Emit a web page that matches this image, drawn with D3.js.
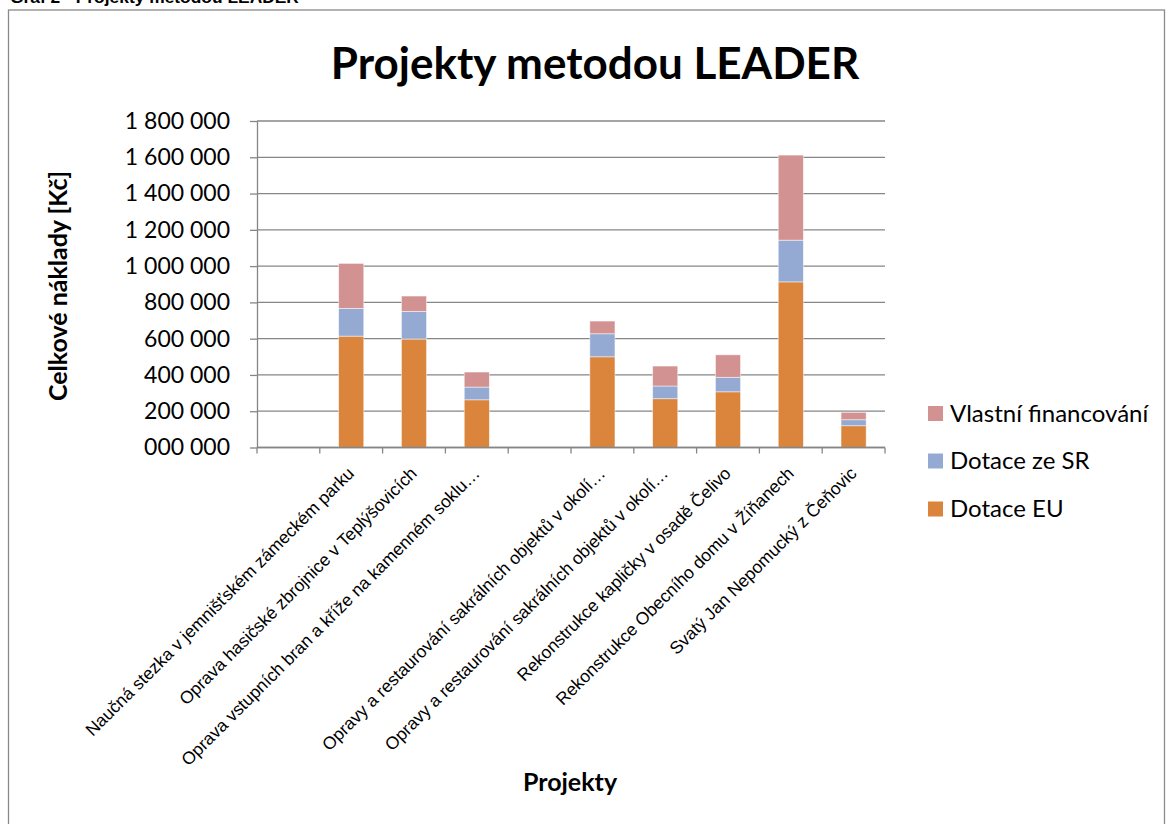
<!DOCTYPE html>
<html>
<head>
<meta charset="utf-8">
<script src="https://cdn.jsdelivr.net/npm/d3@7"></script>
<style>
  body { margin: 0; background: #fff; }
  svg { display: block; }
</style>
</head>
<body>
<svg id="chart"></svg>
<script>
// Projects (two slots are left empty in the original sheet)
const categories = [
  "",
  "Naučná stezka v jemnišťském zámeckém parku",
  "Oprava hasičské zbrojnice v Teplýšovicích",
  "Oprava vstupních bran a kříže na kamenném soklu…",
  "",
  "Opravy a restaurování sakrálních objektů v okolí…",
  "Opravy a restaurování sakrálních objektů v okolí…",
  "Rekonstrukce kapličky v osadě Čelivo",
  "Rekonstrukce Obecního domu v Žíňanech",
  "Svatý Jan Nepomucký z Čeňovic"
];

// Values in Kč
const dotaceEU = [0, 614000, 598000, 263000, 0, 500000, 269000, 307000, 913000, 120000];
const dotaceSR = [0, 153000, 152000, 70000, 0, 127000, 70000, 80000, 230000, 33000];
const vlastni  = [0, 248000, 85000, 83000, 0, 70000, 110000, 124000, 469000, 41000];

const seriesNames = ["Dotace EU", "Dotace ze SR", "Vlastní financování"];
const seriesColors = ["#da843c", "#95aad2", "#d39292"];

const yTicks = [0, 200000, 400000, 600000, 800000, 1000000, 1200000, 1400000, 1600000, 1800000];
const yTickLabels = ["000 000", "200 000", "400 000", "600 000", "800 000",
  "1 000 000", "1 200 000", "1 400 000", "1 600 000", "1 800 000"];

const width = 1168;
const height = 824;
const calibri = "Lato, Carlito, Calibri, sans-serif";
const arial = "'Liberation Sans', Arial, sans-serif";

const svg = d3.select("#chart")
  .attr("width", width)
  .attr("height", height);

// plot area
const plotLeft = 257, plotRight = 885, plotTop = 121, plotBottom = 447.5;

// caption above the chart frame (cut off at the top)
svg.append("text")
  .attr("x", 10)
  .attr("y", 3)
  .style("font-family", arial)
  .style("font-weight", "bold")
  .style("font-size", "17.4px")
  .text("Graf 2 - Projekty metodou LEADER");

// chart frame
svg.append("rect")
  .attr("x", 8.5)
  .attr("y", 10)
  .attr("width", 1156)
  .attr("height", 840)
  .attr("fill", "none")
  .attr("stroke", "#8a8a8a")
  .attr("stroke-width", 1.3);

const idx = categories.map((d, i) => i);

const x = d3.scaleBand()
  .domain(idx)
  .range([plotLeft, plotRight])
  .paddingInner(0.6)
  .paddingOuter(0.3);

const y = d3.scaleLinear()
  .domain([0, 1800000])
  .range([plotBottom, plotTop]);

// gridlines
svg.append("g")
  .selectAll("line")
  .data(yTicks)
  .join("line")
  .attr("x1", plotLeft)
  .attr("x2", plotRight)
  .attr("y1", d => y(d))
  .attr("y2", d => y(d))
  .attr("stroke", "#868686")
  .attr("stroke-width", 1.3);

// stacked bars
const table = idx.map(i => ({
  i: i,
  "Dotace EU": dotaceEU[i],
  "Dotace ze SR": dotaceSR[i],
  "Vlastní financování": vlastni[i]
}));
const stacked = d3.stack().keys(seriesNames)(table);

svg.append("g")
  .selectAll("g")
  .data(stacked)
  .join("g")
  .attr("fill", (d, k) => seriesColors[k])
  .selectAll("rect")
  .data(d => d.filter(p => p[1] > p[0]))
  .join("rect")
  .attr("x", d => x(d.data.i))
  .attr("width", x.bandwidth())
  .attr("y", d => y(d[1]))
  .attr("height", d => y(d[0]) - y(d[1]))
  .attr("stroke", "#ffffff")
  .attr("stroke-opacity", 0.6)
  .attr("stroke-width", 0.8);

// y axis
const yAxis = svg.append("g")
  .attr("transform", `translate(${plotLeft},0)`)
  .call(d3.axisLeft(y)
    .tickValues(yTicks)
    .tickFormat((d, i) => yTickLabels[i])
    .tickSize(7)
    .tickPadding(20)
    .tickSizeOuter(0));
yAxis.select(".domain").attr("stroke", "#868686").attr("stroke-width", 1.3);
yAxis.selectAll(".tick line").attr("stroke", "#868686").attr("stroke-width", 1.3);
yAxis.selectAll(".tick text")
  .style("font-family", calibri)
  .style("font-size", "23px")
  .attr("fill", "#000");

// x axis: ticks at slot boundaries
const step = x.step();
const boundaries = d3.range(categories.length + 1).map(k => plotLeft + k * step);
svg.append("line")
  .attr("x1", plotLeft).attr("x2", plotRight)
  .attr("y1", plotBottom).attr("y2", plotBottom)
  .attr("stroke", "#868686").attr("stroke-width", 1.3);
svg.append("g")
  .selectAll("line")
  .data(boundaries)
  .join("line")
  .attr("x1", d => d).attr("x2", d => d)
  .attr("y1", plotBottom).attr("y2", plotBottom + 6)
  .attr("stroke", "#868686").attr("stroke-width", 1.3);

// rotated category labels
svg.append("g")
  .selectAll("text")
  .data(idx)
  .join("text")
  .attr("transform", i => `translate(${x(i) + x.bandwidth() / 2 + 4},${plotBottom + 27}) rotate(-45)`)
  .attr("text-anchor", "end")
  .style("font-family", arial)
  .style("font-size", "17.5px")
  .text(i => categories[i]);

// title
svg.append("text")
  .attr("x", 595)
  .attr("y", 79)
  .attr("text-anchor", "middle")
  .style("font-family", calibri)
  .style("font-weight", "bold")
  .style("font-size", "44px")
  .text("Projekty metodou LEADER");

// axis titles
svg.append("text")
  .attr("transform", "translate(67,286) rotate(-90)")
  .attr("text-anchor", "middle")
  .style("font-family", calibri)
  .style("font-weight", "bold")
  .style("font-size", "25px")
  .text("Celkové náklady [Kč]");

svg.append("text")
  .attr("x", 570)
  .attr("y", 791)
  .attr("text-anchor", "middle")
  .style("font-family", calibri)
  .style("font-weight", "bold")
  .style("font-size", "25px")
  .text("Projekty");

// legend (reversed order, top = last series)
const legendY = [509, 461, 413.5];
const legend = svg.append("g")
  .selectAll("g")
  .data(seriesNames)
  .join("g")
  .attr("transform", (d, k) => `translate(928,${legendY[k]})`);
legend.append("rect")
  .attr("x", 0).attr("y", -7.5)
  .attr("width", 15).attr("height", 15)
  .attr("fill", (d, k) => seriesColors[k]);
legend.append("text")
  .attr("x", 22)
  .attr("dy", "0.35em")
  .style("font-family", calibri)
  .style("font-size", "24px")
  .text(d => d);
</script>
</body>
</html>
